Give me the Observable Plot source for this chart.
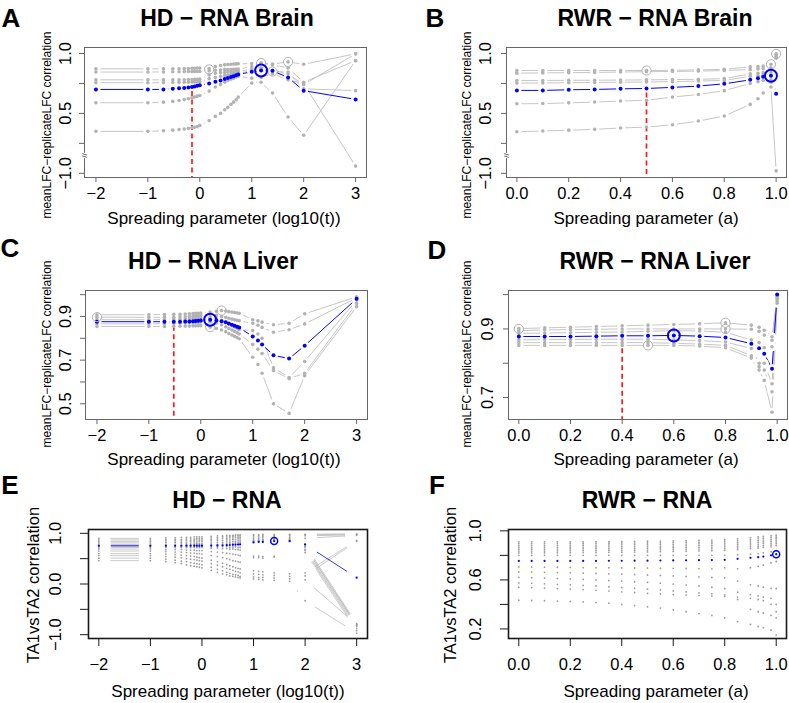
<!DOCTYPE html>
<html><head><meta charset="utf-8">
<script src="https://cdn.jsdelivr.net/npm/d3@7"></script>
<script src="https://cdn.jsdelivr.net/npm/@observablehq/plot@0.6"></script>
<style>
html,body{margin:0;padding:0;background:#fff;}
#wrap{position:relative;width:789px;height:703px;overflow:hidden;font-family:"Liberation Sans",Arial,Helvetica,sans-serif;color:#000;}
.t{position:absolute;white-space:nowrap;line-height:1;transform:translate(-50%,-50%);}
.r{transform:translate(-50%,-50%) rotate(-90deg);}
.pan{position:absolute;}
</style></head><body><div id="wrap"></div>
<script>
// ---------------- Panel A: HD - RNA Brain ----------------
const xsA = [-2,-1,-0.7,-0.52,-0.4,-0.3,-0.22,-0.15,-0.1,-0.05,0,0.18,0.3,0.4,0.48,0.54,0.6,0.65,0.7,0.74,1,1.18,1.4,1.7,2,3];
const blueA = [0.70,0.70,0.70,0.705,0.71,0.713,0.716,0.72,0.725,0.73,0.735,0.75,0.765,0.775,0.787,0.795,0.803,0.81,0.818,0.825,0.847,0.858,0.855,0.80,0.69,0.617];
const grayA1 = [0.872,0.872,0.872,0.872,0.873,0.874,0.875,0.876,0.877,0.878,0.878,0.875,0.89,0.90,0.905,0.908,0.91,0.912,0.913,0.914,0.916,0.92,0.912,0.93,0.91,0.997];
const grayA2 = [0.845,0.845,0.846,0.847,0.848,0.849,0.85,0.85,0.85,0.85,0.85,0.855,0.86,0.862,0.865,0.866,0.867,0.868,0.869,0.87,0.89,0.92,0.905,0.88,0.76,0.94];
const grayA3 = [0.78,0.78,0.78,0.78,0.78,0.781,0.782,0.783,0.784,0.785,0.787,0.82,0.835,0.84,0.842,0.845,0.847,0.848,0.849,0.85,0.87,0.88,0.85,0.845,0.705,0.69];
const grayA4 = [0.756,0.756,0.757,0.758,0.759,0.76,0.761,0.762,0.763,0.764,0.765,0.79,0.80,0.81,0.815,0.82,0.825,0.828,0.83,0.832,0.86,0.87,0.86,0.83,0.74,0.997];
const grayA5 = [0.589,0.589,0.594,0.60,0.608,0.615,0.622,0.63,0.637,0.644,0.65,0.686,0.72,0.742,0.76,0.775,0.785,0.794,0.803,0.81,0.794,0.80,0.83,0.78,0.75,-0.94];
const grayA6 = [0.35,0.35,0.355,0.36,0.365,0.37,0.375,0.38,0.385,0.39,0.40,0.44,0.475,0.50,0.53,0.55,0.575,0.594,0.614,0.636,0.753,0.76,0.67,0.47,0.317,0.94];
const circAx = [0.18,1.18,1.4,1.7];
const circAy = [0.867,0.92,0.85,0.93];
const bestA = [1.18,0.858];
const chosenA = [-0.15,0.72];

// ---------------- Panel B: RWR - RNA Brain ----------------
const xsB = [0,0.1,0.2,0.3,0.4,0.5,0.6,0.7,0.8,0.9,0.93,0.95,0.98,1];
const blueB = [0.692,0.692,0.697,0.70,0.705,0.708,0.717,0.728,0.747,0.78,0.794,0.805,0.814,0.664];
const grayB1 = [0.858,0.858,0.858,0.858,0.858,0.858,0.86,0.863,0.868,0.888,0.89,0.895,0.91,0.997];
const grayB2 = [0.836,0.838,0.84,0.842,0.845,0.848,0.85,0.853,0.858,0.865,0.87,0.875,0.88,0.99];
const grayB3 = [0.775,0.775,0.776,0.777,0.778,0.78,0.782,0.785,0.79,0.83,0.835,0.84,0.84,0.98];
const grayB4 = [0.753,0.754,0.756,0.758,0.76,0.762,0.765,0.77,0.775,0.81,0.815,0.82,0.78,0.97];
const grayB5 = [0.58,0.582,0.588,0.595,0.603,0.61,0.636,0.658,0.69,0.75,0.765,0.775,0.76,0.96];
const grayB6 = [0.347,0.353,0.36,0.367,0.378,0.386,0.405,0.436,0.478,0.575,0.622,0.67,0.72,-0.98];
const circBx = [0.5,0.98,1];
const circBy = [0.858,0.91,0.997];
const bestB = [0.98,0.814];
const chosenB = [0.5,0.708];

// ---------------- Panel C: HD - RNA Liver ----------------
const xsC = [-2,-1,-0.7,-0.52,-0.4,-0.3,-0.22,-0.15,-0.1,-0.05,0,0.18,0.3,0.4,0.48,0.54,0.6,0.65,0.7,0.74,1,1.1,1.18,1.4,1.7,2,3];
const blueC = [0.876,0.876,0.876,0.876,0.876,0.877,0.877,0.878,0.879,0.88,0.882,0.885,0.882,0.878,0.873,0.868,0.862,0.857,0.853,0.849,0.808,0.79,0.772,0.722,0.707,0.766,0.981];
const grayC1 = [0.908,0.908,0.909,0.91,0.91,0.911,0.912,0.913,0.914,0.915,0.916,0.92,0.924,0.927,0.925,0.922,0.92,0.918,0.916,0.915,0.885,0.88,0.874,0.862,0.869,0.912,0.99];
const grayC2 = [0.897,0.896,0.896,0.897,0.898,0.899,0.90,0.901,0.902,0.903,0.904,0.908,0.905,0.90,0.896,0.892,0.888,0.885,0.882,0.88,0.869,0.86,0.85,0.828,0.839,0.866,0.985];
const grayC3 = [0.885,0.885,0.886,0.886,0.887,0.888,0.889,0.89,0.891,0.892,0.893,0.895,0.89,0.882,0.874,0.866,0.858,0.852,0.846,0.84,0.836,0.82,0.80,0.665,0.62,0.694,0.975];
const grayC4 = [0.866,0.866,0.867,0.868,0.869,0.87,0.871,0.872,0.873,0.874,0.875,0.876,0.87,0.862,0.853,0.845,0.838,0.832,0.826,0.82,0.772,0.75,0.73,0.652,0.615,0.64,0.96];
const grayC5 = [0.854,0.854,0.854,0.855,0.855,0.856,0.856,0.857,0.857,0.858,0.858,0.851,0.845,0.838,0.83,0.822,0.815,0.809,0.803,0.798,0.713,0.68,0.64,0.50,0.456,0.629,0.945];
const circCx = [-2,0.18,0.4];
const circCy = [0.897,0.851,0.927];
const bestC = [0.18,0.885];
const chosenC = [-0.52,0.876];

// ---------------- Panel D: RWR - RNA Liver ----------------
const xsD = [0,0.1,0.2,0.3,0.4,0.5,0.6,0.7,0.8,0.9,0.93,0.95,0.98,1];
const blueD = [0.878,0.878,0.878,0.879,0.88,0.88,0.881,0.879,0.875,0.857,0.844,0.828,0.784,1.0];
const grayD1 = [0.901,0.903,0.905,0.907,0.909,0.911,0.913,0.915,0.918,0.911,0.905,0.896,0.877,0.995];
const grayD2 = [0.895,0.897,0.898,0.899,0.90,0.90,0.90,0.90,0.90,0.899,0.893,0.882,0.867,0.99];
const grayD3 = [0.887,0.888,0.889,0.89,0.891,0.893,0.895,0.894,0.89,0.868,0.86,0.845,0.848,0.99];
const grayD4 = [0.868,0.869,0.869,0.87,0.87,0.87,0.868,0.866,0.862,0.843,0.80,0.80,0.74,0.985];
const grayD5 = [0.86,0.86,0.86,0.86,0.86,0.86,0.858,0.856,0.852,0.822,0.79,0.78,0.717,0.98];
const grayD6 = [0.852,0.852,0.852,0.852,0.852,0.852,0.852,0.85,0.845,0.815,0.78,0.75,0.657,0.975];
const circDx = [0,0.5,0.8,0.8];
const circDy = [0.90,0.852,0.918,0.90];
const bestD = [0.6,0.881];
const chosenD = [0.4,0.88];

// ---------------- Panel E: HD - RNA (TA1 vs TA2) ----------------
const xsE = [-2,-1,-0.7,-0.52,-0.4,-0.3,-0.22,-0.15,-0.1,-0.05,0,0.18,0.3,0.4,0.48,0.54,0.6,0.65,0.7,0.74,1,1.1,1.18,1.4,1.7,2,3];
const blueE = [0.754,0.754,0.754,0.754,0.754,0.755,0.755,0.755,0.755,0.755,0.755,0.757,0.76,0.763,0.766,0.769,0.772,0.775,0.778,0.78,0.82,0.83,0.83,0.846,0.846,0.78,0.125];
const grayE1 = [0.90,0.90,0.91,0.91,0.92,0.92,0.92,0.93,0.93,0.93,0.93,0.94,0.95,0.95,0.96,0.96,0.96,0.97,0.97,0.97,0.97,0.97,0.98,0.98,0.98,0.98,0.99];
const grayE2 = [0.87,0.87,0.88,0.88,0.88,0.89,0.89,0.89,0.90,0.90,0.90,0.91,0.92,0.93,0.93,0.94,0.94,0.95,0.95,0.95,0.96,0.96,0.96,0.96,0.97,0.97,0.98];
const grayE3 = [0.84,0.84,0.85,0.85,0.85,0.86,0.86,0.86,0.87,0.87,0.87,0.88,0.89,0.90,0.90,0.91,0.91,0.92,0.92,0.92,0.93,0.93,0.94,0.94,0.95,0.95,0.97];
const grayE4 = [0.81,0.81,0.82,0.82,0.82,0.82,0.83,0.83,0.83,0.84,0.84,0.85,0.86,0.86,0.87,0.87,0.88,0.88,0.89,0.89,0.90,0.90,0.91,0.92,0.92,0.77,-0.78];
const grayE5 = [0.78,0.78,0.78,0.78,0.79,0.79,0.79,0.79,0.80,0.80,0.80,0.81,0.82,0.82,0.83,0.83,0.84,0.84,0.85,0.85,0.87,0.87,0.88,0.89,0.90,0.74,-0.82];
const grayE6 = [0.72,0.72,0.72,0.72,0.72,0.72,0.72,0.72,0.72,0.72,0.72,0.71,0.71,0.70,0.70,0.69,0.69,0.68,0.68,0.67,0.86,0.86,0.87,0.88,0.88,0.90,0.96];
const grayE7 = [0.69,0.69,0.68,0.68,0.68,0.67,0.67,0.67,0.66,0.66,0.66,0.64,0.63,0.62,0.61,0.60,0.59,0.58,0.57,0.56,0.55,0.55,0.54,0.55,0.85,0.66,-0.88];
const grayE8 = [0.65,0.65,0.64,0.63,0.63,0.62,0.61,0.61,0.60,0.60,0.59,0.56,0.54,0.52,0.50,0.48,0.46,0.45,0.44,0.43,0.52,0.52,0.51,0.53,0.84,0.62,-0.92];
const grayE9 = [0.60,0.60,0.59,0.58,0.57,0.56,0.55,0.54,0.53,0.52,0.51,0.47,0.44,0.41,0.38,0.36,0.34,0.32,0.31,0.30,0.26,0.25,0.24,0.22,0.20,0.22,0.86];
const grayE10 = [0.56,0.56,0.54,0.53,0.52,0.50,0.49,0.48,0.47,0.46,0.45,0.40,0.37,0.34,0.31,0.29,0.27,0.25,0.24,0.22,0.20,0.19,0.18,0.17,0.15,0.16,0.84];
const grayE11 = [0.51,0.51,0.49,0.47,0.45,0.44,0.42,0.41,0.40,0.39,0.38,0.33,0.29,0.26,0.23,0.21,0.19,0.18,0.17,0.15,0.14,0.13,0.13,0.12,0.10,0.08,-0.80];
const grayE12 = [0.46,0.46,0.44,0.42,0.40,0.38,0.36,0.35,0.34,0.33,0.32,0.27,0.23,0.20,0.18,0.16,0.15,0.14,0.13,0.12,0.10,0.09,0.08,0.07,0.05,-0.33,-0.97];
const grayE13 = [0.76,0.76,0.76,0.76,0.76,0.76,0.76,0.77,0.77,0.77,0.77,0.78,0.78,0.79,0.79,0.80,0.80,0.81,0.81,0.82,0.84,0.85,0.85,0.86,0.87,0.72,-0.80];
const grayE14 = [0.74,0.74,0.74,0.74,0.74,0.74,0.74,0.74,0.74,0.74,0.74,0.74,0.74,0.74,0.74,0.73,0.73,0.73,0.72,0.72,0.83,0.84,0.84,0.85,0.86,0.68,-0.84];
const bestE = [1.4,0.846];

// ---------------- Panel F: RWR - RNA (TA1 vs TA2) ----------------
const xsF = [0,0.05,0.1,0.15,0.2,0.25,0.3,0.35,0.4,0.45,0.5,0.55,0.6,0.65,0.7,0.75,0.8,0.85,0.9,0.93,0.95,0.98,1];
const blueF = [0.755,0.755,0.755,0.755,0.755,0.755,0.755,0.756,0.756,0.757,0.757,0.758,0.759,0.76,0.761,0.762,0.764,0.772,0.78,0.785,0.79,0.80,0.81];
const grayF1 = [0.91,0.91,0.91,0.91,0.91,0.91,0.912,0.912,0.913,0.914,0.915,0.916,0.918,0.92,0.922,0.925,0.93,0.935,0.945,0.95,0.955,0.96,0.965];
const grayF2 = [0.895,0.895,0.895,0.896,0.896,0.897,0.898,0.899,0.90,0.90,0.901,0.902,0.904,0.906,0.908,0.91,0.915,0.92,0.93,0.935,0.94,0.945,0.95];
const grayF3 = [0.88,0.88,0.88,0.881,0.882,0.883,0.884,0.885,0.886,0.887,0.888,0.889,0.89,0.892,0.894,0.897,0.90,0.905,0.915,0.92,0.925,0.93,0.94];
const grayF4 = [0.865,0.865,0.866,0.866,0.867,0.868,0.869,0.87,0.871,0.872,0.873,0.874,0.876,0.878,0.88,0.882,0.885,0.89,0.90,0.905,0.91,0.915,0.925];
const grayF5 = [0.85,0.85,0.85,0.851,0.852,0.853,0.854,0.855,0.856,0.857,0.858,0.86,0.862,0.864,0.866,0.868,0.87,0.875,0.885,0.89,0.895,0.90,0.91];
const grayF6 = [0.835,0.835,0.835,0.836,0.837,0.838,0.839,0.84,0.841,0.842,0.843,0.845,0.847,0.849,0.851,0.853,0.855,0.86,0.87,0.875,0.88,0.885,0.895];
const grayF7 = [0.82,0.82,0.82,0.821,0.822,0.823,0.824,0.825,0.826,0.827,0.828,0.83,0.832,0.834,0.836,0.838,0.84,0.845,0.855,0.86,0.865,0.87,0.88];
const grayF8 = [0.80,0.80,0.80,0.80,0.80,0.80,0.80,0.80,0.80,0.80,0.80,0.80,0.80,0.80,0.80,0.80,0.80,0.805,0.81,0.815,0.82,0.83,0.84];
const grayF9 = [0.706,0.705,0.704,0.703,0.702,0.70,0.70,0.699,0.698,0.697,0.696,0.695,0.694,0.693,0.692,0.69,0.70,0.69,0.70,0.71,0.72,0.74,0.75];
const grayF10 = [0.665,0.664,0.662,0.66,0.658,0.655,0.652,0.65,0.647,0.644,0.64,0.636,0.632,0.628,0.624,0.62,0.617,0.59,0.56,0.55,0.54,0.53,0.53];
const grayF11 = [0.62,0.618,0.615,0.612,0.608,0.604,0.60,0.595,0.59,0.585,0.58,0.573,0.566,0.558,0.55,0.54,0.53,0.50,0.48,0.47,0.46,0.45,0.40];
const grayF12 = [0.575,0.572,0.568,0.564,0.56,0.555,0.55,0.544,0.538,0.532,0.525,0.518,0.51,0.502,0.494,0.486,0.478,0.46,0.45,0.44,0.43,0.40,0.34];
const grayF13 = [0.54,0.537,0.533,0.529,0.525,0.52,0.515,0.509,0.503,0.497,0.49,0.485,0.48,0.476,0.472,0.468,0.465,0.44,0.36,0.34,0.33,0.31,0.29];
const grayF14 = [0.434,0.432,0.43,0.427,0.424,0.42,0.415,0.41,0.40,0.39,0.38,0.37,0.355,0.34,0.325,0.31,0.29,0.26,0.236,0.22,0.21,0.19,0.15];
const bestF = [1,0.81];

// ---------------- Tick labels ----------------
const ticksLogT = [-2,-1,0,1,2,3];
const labelsLogT = ["−2","−1","0","1","2","3"];
const ticksA01 = [0,0.2,0.4,0.6,0.8,1];
const labelsA01 = ["0.0","0.2","0.4","0.6","0.8","1.0"];
const ticksYBrain = [0,0.25,0.5,0.75,1];           // 0 is the broken-axis position of −1.0
const labelsYBrain = ["−1.0","","0.5","","1.0"];
const ticksYLiverHD = [0.5,0.6,0.7,0.8,0.9,1.0];
const labelsYLiverHD = ["0.5","","0.7","","0.9",""];
const ticksYLiverRWR = [0.7,0.8,0.9,1.0];
const labelsYLiverRWR = ["0.7","","0.9",""];
const ticksYE = [-1,-0.5,0,0.5,1];
const labelsYE = ["−1.0","","0.0","","1.0"];
const ticksYF = [0.2,0.4,0.6,0.8,1.0];
const labelsYF = ["0.2","","0.6","","1.0"];

const titles = ["HD − RNA Brain","RWR − RNA Brain","HD − RNA Liver","RWR − RNA Liver","HD − RNA","RWR − RNA"];
const letters = ["A","B","C","D","E","F"];
const xTitleLog = "Spreading parameter (log10(t))";
const xTitleA = "Spreading parameter (a)";
const yTitleTop = "meanLFC−replicateLFC correlation";
const yTitleBottom = "TA1vsTA2 correlation";

// ---------------- Layout ----------------
const styleTop = {frame:"#666", fw:1, ts:5, tp:5, gap:4.5, pr:1.8, lw:1, lineGray:"#c6c6c6", dotGray:"#b2b2b2", bigR:6, bigW:2};
const styleBot = {frame:"#1a1a1a", fw:1.6, ts:8, tp:12, gap:11.5, pr:0.9, lw:0.8, lineGray:"#bdbdbd", dotGray:"#9c9c9c", bigR:3.5, bigW:1.5};

const panels = [
  {...styleTop, L:84, R:366, T:47, B:177, xd:[-2.22,3.21], yd:[-0.035,1.05], xs:xsA, blue:blueA, gray:[grayA1,grayA2,grayA3,grayA4,grayA5,grayA6], cx:circAx, cy:circAy, best:bestA, red:chosenA, xt:ticksLogT, xl:labelsLogT, yt:ticksYBrain, yl:labelsYBrain, ydx:19, brk:true,
   letter:[11,18], title:[227,18], xtitle:[xTitleLog,224,218], ytitle:[yTitleTop,47,125,12]},
  {...styleTop, L:506, R:786, T:47, B:177, xd:[-0.04,1.04], yd:[-0.035,1.05], xs:xsB, blue:blueB, gray:[grayB1,grayB2,grayB3,grayB4,grayB5,grayB6], cx:circBx, cy:circBy, best:bestB, red:chosenB, xt:ticksA01, xl:labelsA01, yt:ticksYBrain, yl:labelsYBrain, ydx:21, brk:true,
   letter:[435,18], title:[655,18], xtitle:[xTitleA,646,218], ytitle:[yTitleTop,467,125,12]},
  {...styleTop, L:85, R:367, T:290, B:419, xd:[-2.22,3.21], yd:[0.428,1.019], xs:xsC, blue:blueC, gray:[grayC1,grayC2,grayC3,grayC4,grayC5], cx:circCx, cy:circCy, best:bestC, red:chosenC, xt:ticksLogT, xl:labelsLogT, yt:ticksYLiverHD, yl:labelsYLiverHD, ydx:20, brk:false,
   letter:[10,248], title:[213,261], xtitle:[xTitleLog,224,459], ytitle:[yTitleTop,47,354,12]},
  {...styleTop, L:508, R:787, T:290, B:419, xd:[-0.04,1.04], yd:[0.636,1.012], xs:xsD, blue:blueD, gray:[grayD1,grayD2,grayD3,grayD4,grayD5,grayD6], cx:circDx, cy:circDy, best:bestD, red:chosenD, xt:ticksA01, xl:labelsA01, yt:ticksYLiverRWR, yl:labelsYLiverRWR, ydx:21, brk:false,
   letter:[437,250], title:[655,261], xtitle:[xTitleA,646,459], ytitle:[yTitleTop,467,354,12]},
  {...styleBot, L:88, R:367, T:529, B:638, xd:[-2.2,3.21], yd:[-1.075,1.075], xs:xsE, blue:blueE, gray:[grayE1,grayE2,grayE3,grayE4,grayE5,grayE6,grayE7,grayE8,grayE9,grayE10,grayE11,grayE12,grayE13,grayE14], cx:[], cy:[], best:bestE, red:null, xt:ticksLogT, xl:labelsLogT, yt:ticksYE, yl:labelsYE, ydx:33, brk:false,
   letter:[10,485], title:[227,500], xtitle:[xTitleLog,228,691], ytitle:[yTitleBottom,33,585,16.5]},
  {...styleBot, L:508, R:786, T:529, B:638, xd:[-0.04,1.04], yd:[0.122,1.011], xs:xsF, blue:blueF, gray:[grayF1,grayF2,grayF3,grayF4,grayF5,grayF6,grayF7,grayF8,grayF9,grayF10,grayF11,grayF12,grayF13,grayF14], cx:[], cy:[], best:bestF, red:null, xt:ticksA01, xl:labelsA01, yt:ticksYF, yl:labelsYF, ydx:33, brk:false,
   letter:[437,485], title:[647,500], xtitle:[xTitleA,656,691], ytitle:[yTitleBottom,450,585,16.5]}
];

const wrap = document.getElementById("wrap");
function addText(txt, cx, cy, css, rot) {
  const d = document.createElement("div");
  d.className = "t" + (rot ? " r" : "");
  d.textContent = txt;
  d.style.left = cx + "px"; d.style.top = cy + "px";
  Object.assign(d.style, css);
  wrap.appendChild(d);
}

panels.forEach((p, pi) => {
  const ML = 62, MR = 2, MT = 4, MB = 46;
  const width = p.R - p.L + ML + MR, height = p.B - p.T + MT + MB;
  const tf = p.brk ? (v => v < 0 ? v + 1 : v) : (v => v);
  const rows = [];
  p.gray.forEach((a, k) => a.forEach((v, i) => { if (v != null) rows.push({x: p.xs[i], y: tf(v), s: k}); }));
  const brows = p.blue.map((v, i) => ({x: p.xs[i], y: tf(v)}));
  const all = rows.concat(brows);
  const circ = p.cx.map((x, i) => ({x, y: tf(p.cy[i])}));
  const marks = [
    Plot.line(rows, {x: "x", y: "y", z: "s", stroke: p.lineGray, strokeWidth: p.lw}),
    Plot.line(brows, {x: "x", y: "y", stroke: "#0000ff", strokeWidth: p.lw}),
    Plot.dot(all, {x: "x", y: "y", r: p.gap, fill: "white", stroke: null})
  ];
  if (p.red) marks.push(Plot.ruleX([p.red], {x: d => d[0], y1: d => tf(d[1]), y2: () => p.yd[0], stroke: "#ff1a1a", strokeWidth: 1.7, strokeDasharray: "5,3.5", insetTop: p.gap}));
  marks.push(Plot.dot(rows, {x: "x", y: "y", r: p.pr, fill: p.dotGray, stroke: null}));
  marks.push(Plot.dot(brows, {x: "x", y: "y", r: p.pr + 0.2, fill: "#0000ff", stroke: null}));
  if (circ.length) marks.push(Plot.dot(circ, {x: "x", y: "y", r: 4.6, stroke: "#b0b0b0", strokeWidth: 1, fill: "none"}));
  marks.push(Plot.dot([p.best], {x: d => d[0], y: d => tf(d[1]), r: p.bigR, stroke: "#0000ff", strokeWidth: p.bigW, fill: "none"}));
  marks.push(Plot.frame({stroke: p.frame, strokeWidth: p.fw}));
  marks.push(Plot.axisX({ticks: p.xt, tickFormat: d => p.xl[p.xt.indexOf(d)], tickSize: p.ts, tickPadding: p.tp, stroke: p.frame, fill: "black", label: null}));
  marks.push(Plot.axisY({ticks: p.yt, tickFormat: () => "", tickSize: p.ts, stroke: p.frame, label: null}));
  const ylab = p.yt.map((v, i) => ({v, t: p.yl[i]})).filter(d => d.t);
  marks.push(Plot.text(ylab, {y: "v", text: "t", frameAnchor: "left", dx: -p.ydx, rotate: -90, textAnchor: "middle", lineAnchor: "middle", fill: "black"}));
  if (p.brk) marks.push(Plot.text([0.13], {y: d => d, frameAnchor: "left", text: () => "//", rotate: -90, fontSize: 8, fill: "#444", stroke: "white", strokeWidth: 2, paintOrder: "stroke"}));

  const svg = Plot.plot({
    width, height, marginLeft: ML, marginRight: MR, marginTop: MT, marginBottom: MB,
    x: {domain: p.xd, label: null},
    y: {domain: p.yd, label: null},
    style: {fontFamily: '"Liberation Sans", Arial, sans-serif', fontSize: "16.5px", background: "none", color: "black", overflow: "visible"},
    marks
  });
  const holder = document.createElement("div");
  holder.className = "pan";
  holder.style.left = (p.L - ML) + "px";
  holder.style.top = (p.T - MT) + "px";
  holder.appendChild(svg);
  wrap.appendChild(holder);

  addText(letters[pi], p.letter[0], p.letter[1], {fontWeight: "bold", fontSize: "26px"});
  addText(titles[pi], p.title[0], p.title[1], {fontWeight: "bold", fontSize: "23px"});
  addText(p.xtitle[0], p.xtitle[1], p.xtitle[2], {fontSize: "17px"});
  addText(p.ytitle[0], p.ytitle[1], p.ytitle[2], {fontSize: p.ytitle[3] + "px"}, true);
});
</script></body></html>
